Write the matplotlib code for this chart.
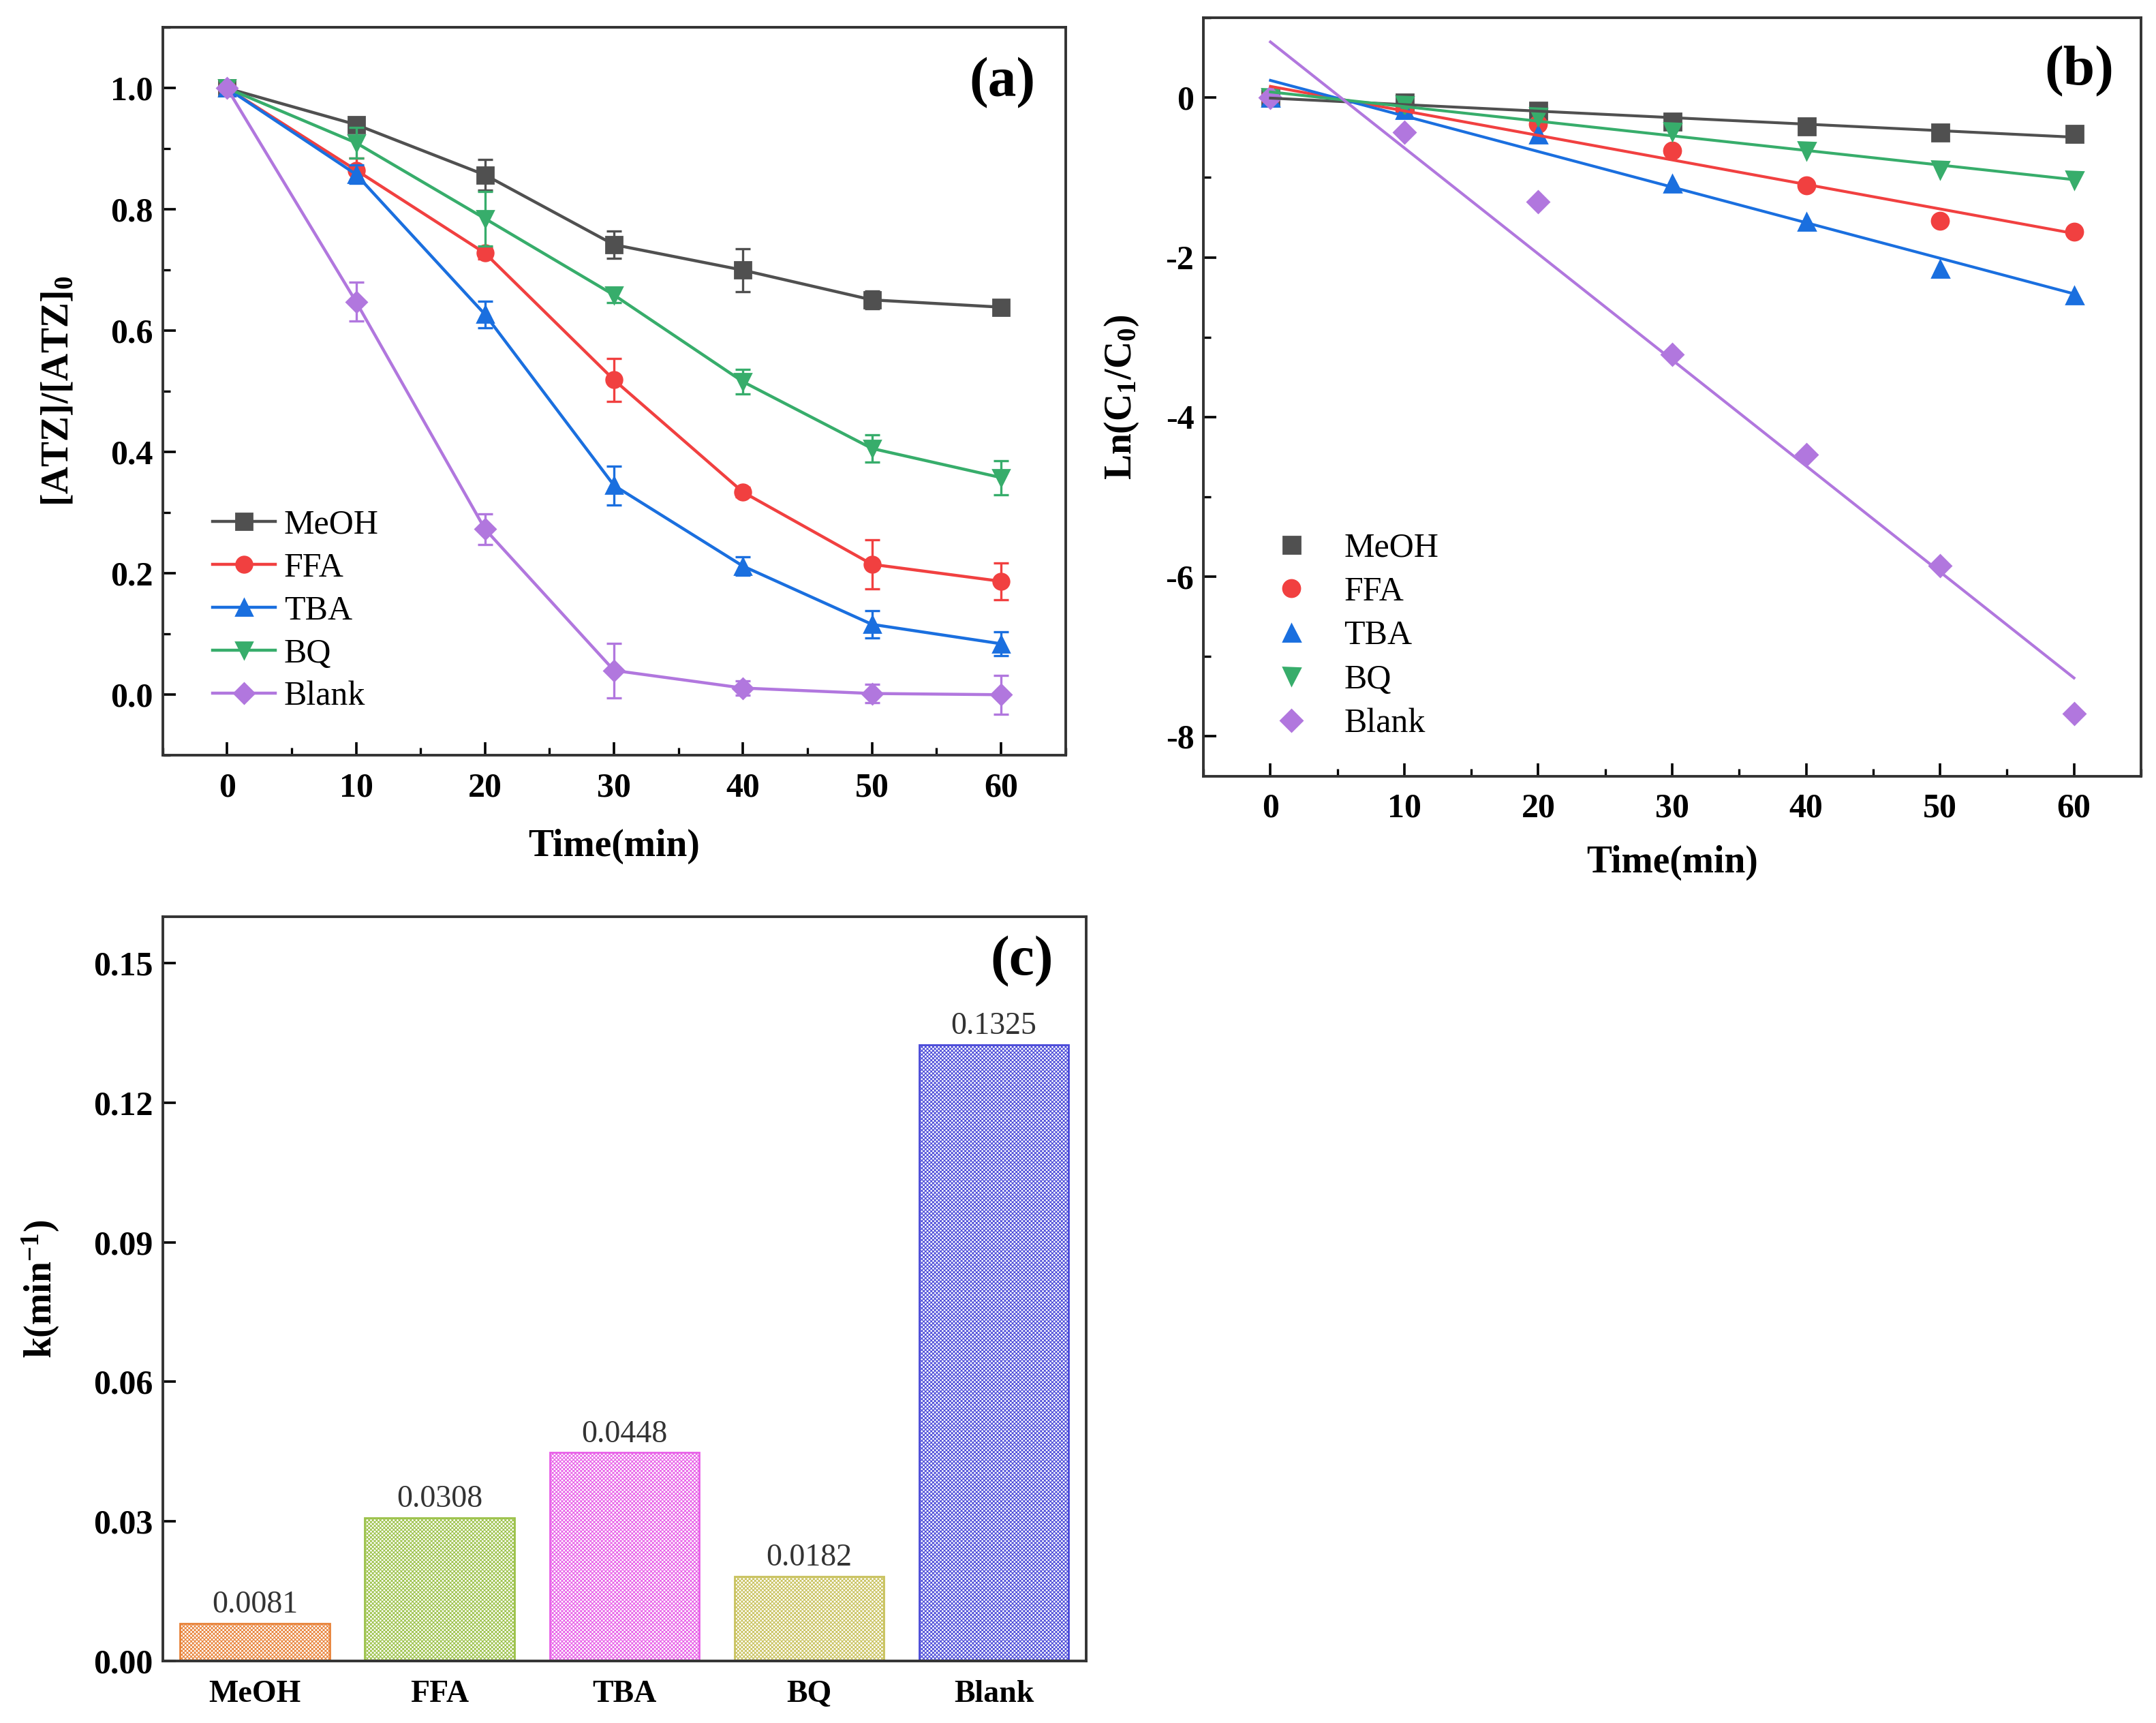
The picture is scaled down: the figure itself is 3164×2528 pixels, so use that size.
import matplotlib
matplotlib.use('Agg')
import matplotlib.pyplot as plt
import numpy as np
from matplotlib.ticker import MultipleLocator, FormatStrFormatter

plt.rcParams['font.family'] = 'Liberation Serif'
plt.rcParams['mathtext.fontset'] = 'custom'
plt.rcParams['mathtext.rm'] = 'Liberation Serif:bold'
plt.rcParams['mathtext.it'] = 'Liberation Serif:bold'
plt.rcParams['mathtext.bf'] = 'Liberation Serif:bold'
plt.rcParams['axes.unicode_minus'] = False
plt.rcParams['hatch.linewidth'] = 0.45

# ---- data ----
time = [0, 10, 20, 30, 40, 50, 60]
names = ['MeOH', 'FFA', 'TBA', 'BQ', 'Blank']
colors = ['#505050', '#F14040', '#1A6FDF', '#37AD6B', '#B177DE']
markers = ['s', 'o', '^', 'v', 'D']

# (a) [ATZ]/[ATZ]0
meoh = [1.0, 0.940, 0.857, 0.742, 0.700, 0.651, 0.639]
ffa = [1.0, 0.865, 0.728, 0.519, 0.334, 0.215, 0.187]
tba = [1.0, 0.858, 0.627, 0.345, 0.212, 0.116, 0.084]
bq = [1.0, 0.910, 0.785, 0.659, 0.516, 0.406, 0.358]
blank = [1.0, 0.648, 0.273, 0.040, 0.011, 0.002, 0.000]

meoh_err = [0.005, 0.010, 0.025, 0.022, 0.035, 0.015, 0.008]
ffa_err = [0.005, 0.020, 0.010, 0.035, 0.008, 0.040, 0.030]
tba_err = [0.005, 0.015, 0.022, 0.032, 0.015, 0.022, 0.020]
bq_err = [0.005, 0.025, 0.045, 0.012, 0.020, 0.022, 0.028]
blank_err = [0.005, 0.032, 0.025, 0.045, 0.012, 0.015, 0.032]

# (b) ln(Ct/C0)
meoh_ln = [0.0, -0.06, -0.155, -0.298, -0.357, -0.429, -0.448]
ffa_ln = [0.0, -0.145, -0.33, -0.66, -1.10, -1.54, -1.68]
tba_ln = [0.0, -0.15, -0.46, -1.07, -1.55, -2.14, -2.47]
bq_ln = [0.0, -0.09, -0.24, -0.42, -0.66, -0.90, -1.03]
blank_ln = [0.0, -0.43, -1.30, -3.22, -4.47, -5.86, -7.72]

# (c) rate constants
k_values = [0.0081, 0.0308, 0.0448, 0.0182, 0.1325]
bar_colors = ['#E8833A', '#9CC24A', '#E860E8', '#C9C25E', '#4A4AD8']

conc = [meoh, ffa, tba, bq, blank]
errs = [meoh_err, ffa_err, tba_err, bq_err, blank_err]
lns = [meoh_ln, ffa_ln, tba_ln, bq_ln, blank_ln]

fig = plt.figure(figsize=(15.82, 12.64), dpi=200)
ax1 = fig.add_axes([0.0754, 0.5616, 0.4188, 0.4224])
ax2 = fig.add_axes([0.5582, 0.5496, 0.4348, 0.4400])
ax3 = fig.add_axes([0.0754, 0.0360, 0.4284, 0.4320])

tick_fs = 18
label_fs = 20


def style_axes(ax):
    for s in ax.spines.values():
        s.set_linewidth(1.4)
        s.set_color('#333333')
    ax.tick_params(which='major', direction='in', length=7, width=1.3,
                   labelsize=tick_fs, top=False, right=False)
    ax.tick_params(which='minor', direction='in', length=4, width=1.2,
                   top=False, right=False)
    ax.tick_params(axis='x', which='major', pad=9)
    ax.tick_params(axis='y', which='major', pad=5)
    for lab in ax.get_xticklabels() + ax.get_yticklabels():
        lab.set_fontweight('bold')


# ---- (a) ----
for y, e, c, m, n in zip(conc, errs, colors, markers, names):
    ms = 8.5 if m != 'D' else 7.5
    ax1.errorbar(time, y, yerr=e, fmt='none', ecolor=c,
                 elinewidth=1.2, capsize=4, capthick=1.2)
    ax1.plot(time, y, color=c, marker=m, markersize=ms, lw=1.6, label=n)
ax1.set_xlim(-5, 65)
ax1.set_ylim(-0.1, 1.1)
ax1.xaxis.set_major_locator(MultipleLocator(10))
ax1.xaxis.set_minor_locator(MultipleLocator(5))
ax1.yaxis.set_major_locator(MultipleLocator(0.2))
ax1.yaxis.set_minor_locator(MultipleLocator(0.1))
ax1.yaxis.set_major_formatter(FormatStrFormatter('%.1f'))
style_axes(ax1)
ax1.set_xlabel('Time(min)', fontsize=label_fs, fontweight='bold', labelpad=13)
ax1.set_ylabel('[ATZ]/[ATZ]$_0$', fontsize=label_fs, fontweight='bold', labelpad=18)
ax1.text(0.93, 0.924, '(a)', transform=ax1.transAxes, fontsize=30,
         fontweight='bold', ha='center', va='center')
ax1.legend(loc='lower left', bbox_to_anchor=(0.04, 0.04), frameon=False,
           fontsize=18, handlelength=1.85, handletextpad=0.25, labelspacing=0.33,
           borderaxespad=0)

# ---- (b) ----
tarr = np.array(time, dtype=float)
for y, c, m, n in zip(lns, colors, markers, names):
    ax2.plot(time, y, ls='none', marker=m, color=c,
             markersize=9 if m != 'D' else 8, label=n)
for y, c in zip(lns, colors):
    p = np.polyfit(tarr, np.array(y), 1)
    ax2.plot([tarr[0], tarr[-1]], np.polyval(p, [tarr[0], tarr[-1]]), color=c, lw=1.5)
ax2.set_xlim(-5, 65)
ax2.set_ylim(-8.5, 1.0)
ax2.xaxis.set_major_locator(MultipleLocator(10))
ax2.xaxis.set_minor_locator(MultipleLocator(5))
ax2.yaxis.set_major_locator(MultipleLocator(2))
ax2.yaxis.set_minor_locator(MultipleLocator(1))
style_axes(ax2)
ax2.set_xlabel('Time(min)', fontsize=label_fs, fontweight='bold', labelpad=11)
ax2.set_ylabel('Ln(C$_1$/C$_0$)', fontsize=label_fs, fontweight='bold', labelpad=13)
ax2.text(0.934, 0.929, '(b)', transform=ax2.transAxes, fontsize=30,
         fontweight='bold', ha='center', va='center')
ax2.legend(loc='lower left', bbox_to_anchor=(0.05, 0.03), frameon=False,
           fontsize=18, handlelength=1.6, handletextpad=0.75, labelspacing=0.36,
           borderaxespad=0, numpoints=1)

# ---- (c) ----
pos = np.arange(1, len(names) + 1)
bars = ax3.bar(pos, k_values, width=0.81, color='white', edgecolor=bar_colors,
               hatch='x' * 12, lw=1.0)
for b, v in zip(bars, k_values):
    ax3.text(b.get_x() + b.get_width() / 2, v + 0.0008, '%.4f' % v,
             ha='center', va='bottom', fontsize=16.5, color='#333333')
ax3.set_xlim(0.5, 5.5)
ax3.set_ylim(0, 0.16)
ax3.set_xticks(pos)
ax3.set_xticklabels(names)
ax3.yaxis.set_major_locator(MultipleLocator(0.03))
ax3.yaxis.set_major_formatter(FormatStrFormatter('%.2f'))
style_axes(ax3)
ax3.tick_params(axis='x', which='major', length=0, labelsize=16.5, pad=10)
ax3.set_ylabel('k(min$^{-1}$)', fontsize=label_fs, fontweight='bold', labelpad=17)
ax3.text(0.93, 0.94, '(c)', transform=ax3.transAxes, fontsize=30,
         fontweight='bold', ha='center', va='center')

fig.savefig('out.png', dpi=200)
